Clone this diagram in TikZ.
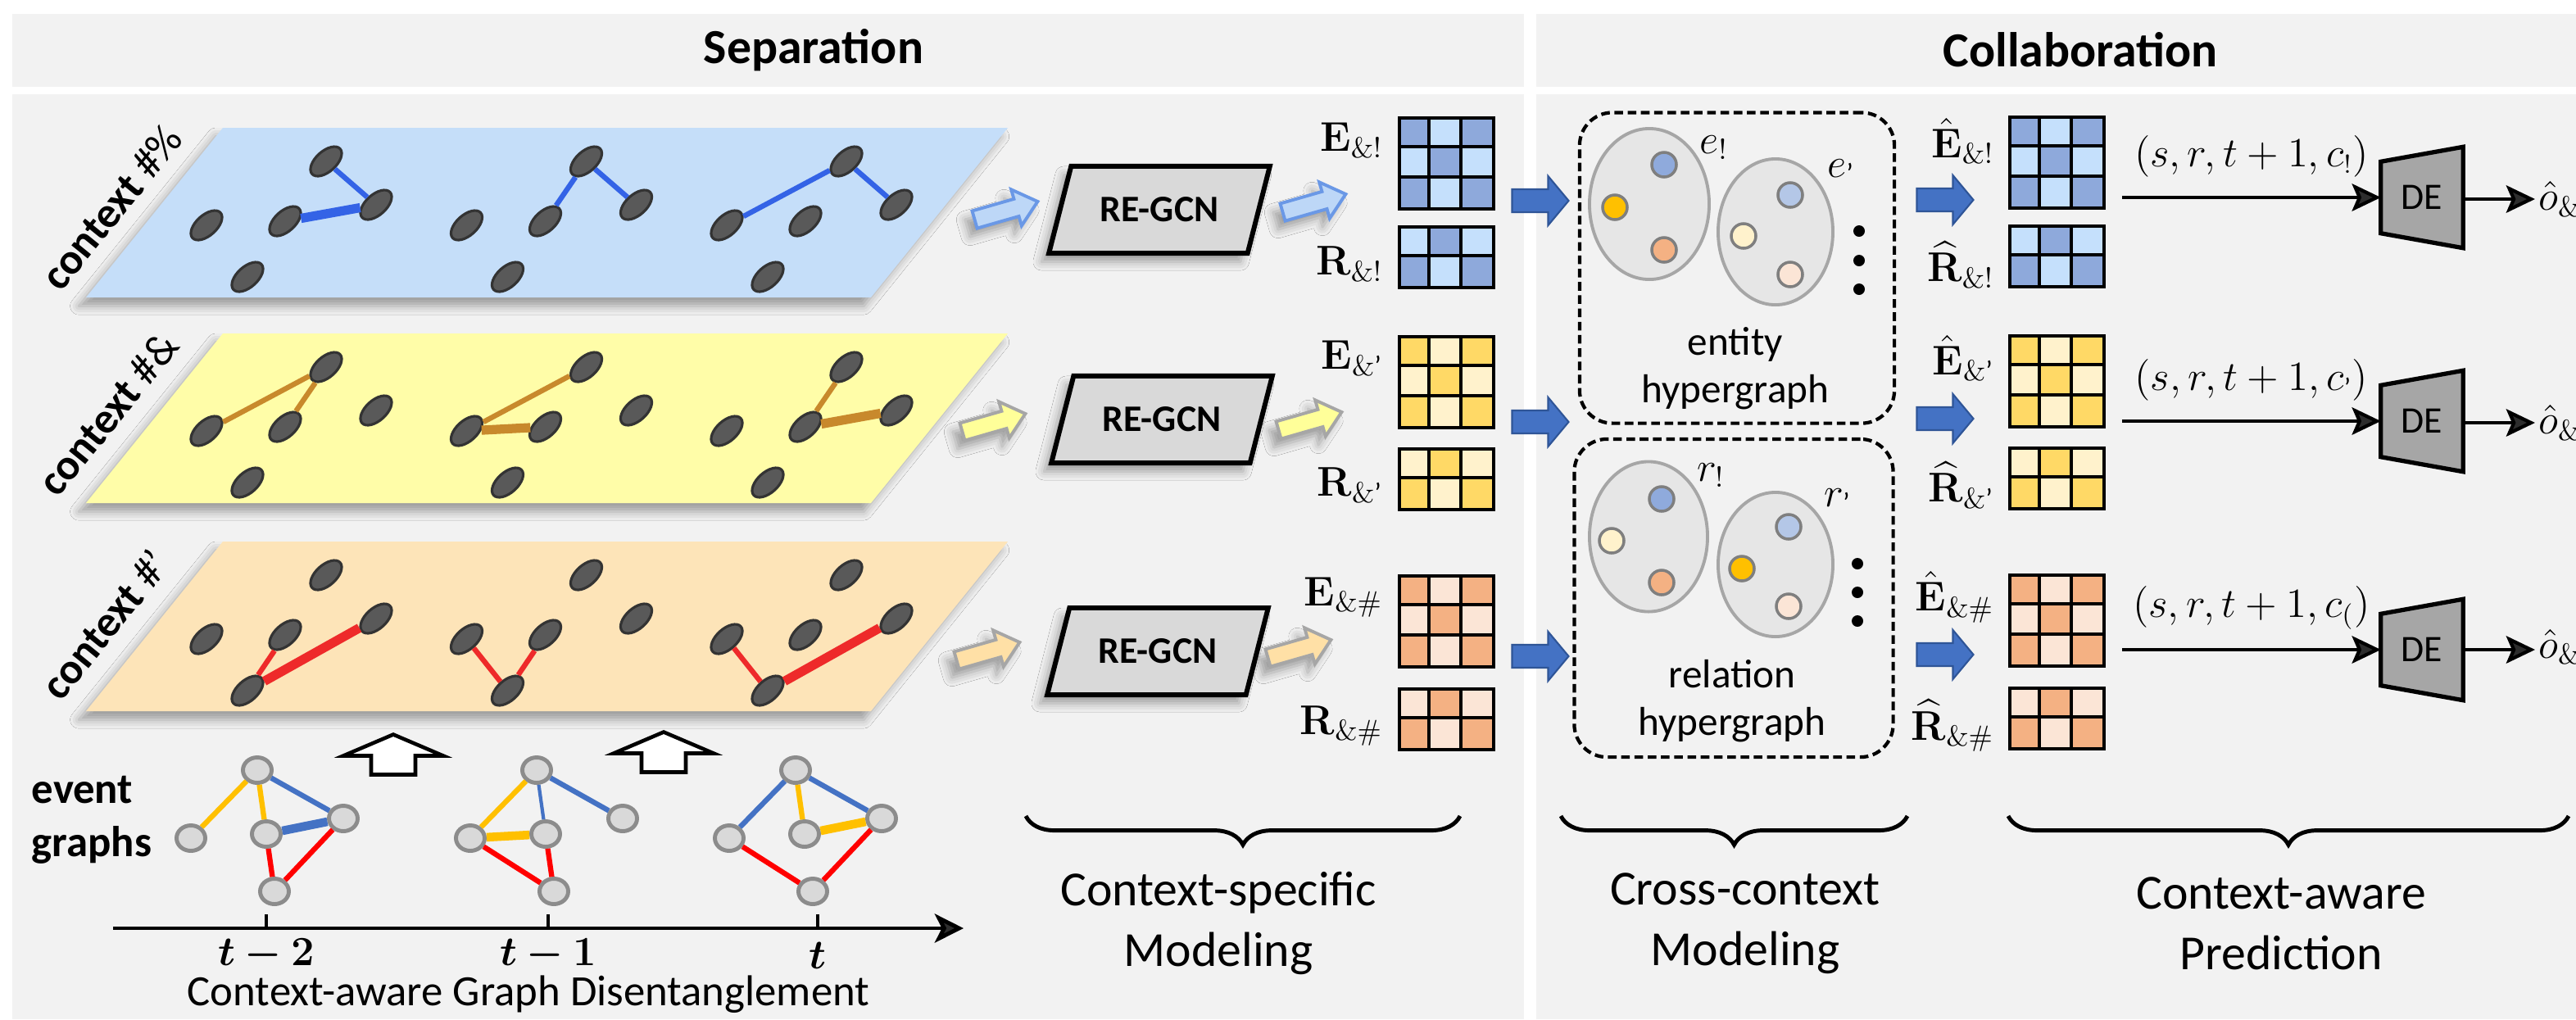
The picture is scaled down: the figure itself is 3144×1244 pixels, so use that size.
\documentclass[tikz,border=0pt]{standalone}
\usepackage[no-math]{fontspec}
\setmainfont{Carlito}
\usepackage{amsmath}
\usepackage{amssymb}
\usepackage{bm}
\usetikzlibrary{shapes.geometric,arrows.meta,positioning,calc,decorations.pathreplacing,shadows.blur}

\definecolor{panelgray}{HTML}{F2F2F2}
\definecolor{planeblue}{HTML}{C5DEF9}
\definecolor{planeyellow}{HTML}{FFFDA8}
\definecolor{planeorange}{HTML}{FDE4B8}
\definecolor{pnodefill}{HTML}{595959}
\definecolor{pnodeline}{HTML}{333333}
\definecolor{pblue}{HTML}{3463E6}
\definecolor{pbrown}{HTML}{C8892C}
\definecolor{pred}{HTML}{EE2A2A}
\definecolor{enodefill}{HTML}{D9D9D9}
\definecolor{enodeline}{HTML}{8C8C8C}
\definecolor{evblue}{HTML}{4472C4}
\definecolor{evyellow}{HTML}{FFC000}
\definecolor{evred}{HTML}{FF0000}
\definecolor{gcnfill}{HTML}{D9D9D9}
\definecolor{mbluedark}{HTML}{8EA9DB}
\definecolor{mbluelight}{HTML}{C5E0FC}
\definecolor{myellowdark}{HTML}{FFD966}
\definecolor{myellowlight}{HTML}{FFF2CC}
\definecolor{morangedark}{HTML}{F4B183}
\definecolor{morangelight}{HTML}{FBE5D6}
\definecolor{arrowblue}{HTML}{4472C4}
\definecolor{arrowblueline}{HTML}{2F5597}
\definecolor{hedgefill}{HTML}{E6E6E6}
\definecolor{hedgeline}{HTML}{A6A6A6}
\definecolor{defill}{HTML}{A6A6A6}
\definecolor{sablue}{HTML}{BDD7F7}
\definecolor{sablueline}{HTML}{6A98E6}
\definecolor{sayellow}{HTML}{FFFF99}
\definecolor{saorange}{HTML}{FFE0A6}
\definecolor{saline}{HTML}{A6A6A6}
\definecolor{dotblue}{HTML}{8FAADC}
\definecolor{dotlightblue}{HTML}{B4C7E7}
\definecolor{dotyellow}{HTML}{FFC000}
\definecolor{dotlightyellow}{HTML}{FFF2CC}
\definecolor{dotorange}{HTML}{F4B183}
\definecolor{dotpeach}{HTML}{FBE5D6}
\definecolor{dotline}{HTML}{7F7F7F}

% embedding grid with 3 columns: name, left, top, rows, dark, light, parity
\newcommand{\embgrid}[7]{%
  \foreach \i in {1,...,#4}
    \foreach \j in {1,2,3} {
      \pgfmathtruncatemacro{\cellodd}{mod(\i+\j+#7,2)}
      \ifnum\cellodd=0 \def\cellcol{#5}\else\def\cellcol{#6}\fi
      \fill[\cellcol] (#2+38.3*\j-38.3,#3+37*\i-37) rectangle ++(38.3,37);
    }
  \foreach \j in {1,2}
    \draw[line width=1.1pt] (#2+38.3*\j,#3) -- ++(0,37*#4);
  \foreach \i in {2,...,#4}
    \draw[line width=1.1pt] (#2,#3+37*\i-37) -- ++(115,0);
  \node[draw, line width=1.1pt, inner sep=0pt, minimum width=1.15cm, minimum height=0.37cm*#4, anchor=north west] (#1) at (#2,#3) {};
}

% block arrow pointing right: centre x, centre y, length, body half, head half, head length, style
\newcommand{\blockarrow}[7]{%
  \path[#7] (#1-#3/2,#2-#4) -- (#1+#3/2-#6,#2-#4) -- (#1+#3/2-#6,#2-#5) -- (#1+#3/2,#2)
    -- (#1+#3/2-#6,#2+#5) -- (#1+#3/2-#6,#2+#4) -- (#1-#3/2,#2+#4) -- cycle;
}

\begin{document}
\begin{tikzpicture}[x=0.01cm, y=-0.01cm,
    softshadow/.style={blur shadow={shadow xshift=-2.5pt, shadow yshift=-3pt, shadow blur radius=3pt, shadow opacity=35}},
    header/.style={font=\fontsize{17}{20}\selectfont\bfseries},
    pnode/.style={ellipse, draw=pnodeline, fill=pnodefill, line width=0.9pt, minimum width=0.46cm, minimum height=0.25cm, inner sep=0pt, rotate=42},
    pedge/.style={line width=1.8pt},
    pthick/.style={line width=3.2pt},
    ctxlabel/.style={rotate=51, font=\fontsize{15}{18}\selectfont},
    enode/.style={ellipse, draw=enodeline, fill=enodefill, line width=1.4pt, minimum width=0.35cm, minimum height=0.31cm, inner sep=0pt},
    eedge/.style={line width=1.8pt},
    ethick/.style={line width=3pt},
    hollow/.style={draw=black, fill=white, line width=1.3pt},
    gcn/.style={trapezium, trapezium left angle=59, trapezium right angle=121, trapezium stretches=true, draw=black, line width=1.7pt, fill=gcnfill, minimum width=2.7cm, minimum height=1.06cm, inner sep=0pt, font=\fontsize{13}{15}\selectfont\bfseries, softshadow},
    mlabel/.style={anchor=east, inner sep=1pt, font=\fontsize{14}{16}\selectfont},
    bigarrow/.style={fill=arrowblue, draw=arrowblueline, line width=0.6pt},
    hyperbox/.style={draw, line width=1.2pt, dash pattern=on 3pt off 1.6pt, rounded corners=0.4cm, inner sep=0pt},
    hedge/.style={ellipse, draw=hedgeline, fill=hedgefill, line width=1.1pt, inner sep=0pt},
    hdot/.style={circle, draw=dotline, line width=1pt, inner sep=0pt, minimum size=0.3cm},
    vdot/.style={circle, fill=black, inner sep=0pt, minimum size=0.14cm},
    htext/.style={align=center, font=\fontsize{14}{16.5}\selectfont},
    brace/.style={decorate, decoration={brace, mirror, amplitude=10pt}, line width=1.4pt},
    bracetext/.style={align=center, font=\fontsize{17}{21}\selectfont},
    predarrow/.style={-{Stealth[length=10pt, width=9.5pt, inset=2pt]}, line width=1.2pt},
    detrap/.style={draw=black, fill=defill, line width=1.5pt}]

\useasboundingbox (0,0) rectangle (3144,1244);

% header bars and panels
\fill[panelgray] (15,17) rectangle (1860,106);
\fill[panelgray] (1875,17) rectangle (3144,106);
\fill[panelgray] (15,115) rectangle (1860,1244);
\fill[panelgray] (1875,115) rectangle (3144,1244);
\node[header] (hsep) at (993,61) {Separation};
\node[header] (hcol) at (2539,61) {Collaboration};

% context planes
\foreach \pc/\yt in {planeblue/156, planeyellow/407, planeorange/661}
  \fill[\pc, softshadow] (105,\yt+207) -- (1063,\yt+207) -- (1230,\yt) -- (272,\yt) -- cycle;

% nodes on the planes (same layout for every timestamp)
\foreach \p/\yt in {b/156, y/407, o/661}
  \foreach \k in {0,1,2} {
    \node[pnode] (\p\k t) at (398+317.5*\k,\yt+41) {};
    \node[pnode] (\p\k r) at (459+317.5*\k,\yt+94) {};
    \node[pnode] (\p\k m) at (348+317.5*\k,\yt+114) {};
    \node[pnode] (\p\k l) at (252+317.5*\k,\yt+119) {};
    \node[pnode] (\p\k b) at (302+317.5*\k,\yt+182) {};
  }

% context #1 edges
\draw[pedge, pblue] (b0t) -- (b0r);
\draw[pthick, pblue] (b0r) -- (b0m);
\draw[pedge, pblue] (b1t) -- (b1m);
\draw[pedge, pblue] (b1t) -- (b1r);
\draw[pedge, pblue] (b2l) -- (b2t);
\draw[pedge, pblue] (b2t) -- (b2r);
% context #2 edges
\draw[pedge, pbrown] (y0l) -- (y0t);
\draw[pedge, pbrown] (y0m) -- (y0t);
\draw[pedge, pbrown] (y1l) -- (y1t);
\draw[pthick, pbrown] (y1l) -- (y1m);
\draw[pedge, pbrown] (y2m) -- (y2t);
\draw[pthick, pbrown] (y2m) -- (y2r);
% context #3 edges
\draw[pedge, pred] (o0b) -- (o0m);
\draw[pthick, pred] (o0b) -- (o0r);
\draw[pedge, pred] (o1b) -- (o1l);
\draw[pedge, pred] (o1b) -- (o1m);
\draw[pedge, pred] (o2b) -- (o2l);
\draw[pthick, pred] (o2b) -- (o2r);

% plane labels
\node[ctxlabel] (ctxb) at (136,253) {\textbf{context} \#\%};
\node[ctxlabel] (ctxy) at (132,505) {\textbf{context} \#\&};
\node[ctxlabel] (ctxo) at (128,762) {\textbf{context} \#'};

% event graphs
\foreach \k/\xo in {1/0, 2/341, 3/657} {
  \node[enode] (e\k t) at (314+\xo,940) {};
  \node[enode] (e\k m) at (325+\xo,1018) {};
  \node[enode] (e\k r) at (419+\xo,999) {};
  \node[enode] (e\k l) at (233+\xo,1023) {};
  \node[enode] (e\k b) at (335+\xo,1088) {};
}
\draw[eedge, evyellow] (e1t) -- (e1l);
\draw[eedge, evyellow] (e1t) -- (e1m);
\draw[eedge, evblue] (e1t) -- (e1r);
\draw[ethick, evblue] (e1m) -- (e1r);
\draw[eedge, evred] (e1m) -- (e1b);
\draw[eedge, evred] (e1r) -- (e1b);
\draw[eedge, evyellow] (e2t) -- (e2l);
\draw[line width=1.2pt, evblue] (e2t) -- (e2m);
\draw[eedge, evblue] (e2t) -- (e2r);
\draw[ethick, evyellow] (e2l) -- (e2m);
\draw[eedge, evred] (e2l) -- (e2b);
\draw[eedge, evred] (e2m) -- (e2b);
\draw[eedge, evblue] (e3t) -- (e3l);
\draw[eedge, evyellow] (e3t) -- (e3m);
\draw[eedge, evblue] (e3t) -- (e3r);
\draw[ethick, evyellow] (e3m) -- (e3r);
\draw[eedge, evred] (e3l) -- (e3b);
\draw[eedge, evred] (e3r) -- (e3b);

% hollow arrows pointing up to the planes
\foreach \ax/\ay in {480/921, 810/918} {
  \begin{scope}[shift={(\ax,\ay)}, rotate=90]
    \blockarrow{0}{0}{49}{27}{61}{26}{hollow}
  \end{scope}
}
\node[align=left, anchor=west, inner sep=0pt, font=\fontsize{15}{18.5}\selectfont\bfseries] (evlabel) at (38,1001) {event\\graphs};

% time axis
\coordinate (axs) at (138,1133);
\coordinate (axe) at (1176,1133);
\draw[line width=1.4pt, -{Stealth[length=10pt, width=10pt, inset=2.5pt]}] (axs) -- (axe);
\foreach \tx in {325,669,998}
  \draw[line width=1.2pt] (\tx,1133) -- (\tx,1116);
\node[font=\fontsize{14}{16}\selectfont] (tl1) at (325,1166) {$\bm{t-2}$};
\node[font=\fontsize{14}{16}\selectfont] (tl2) at (669,1166) {$\bm{t-1}$};
\node[font=\fontsize{14}{16}\selectfont] (tl3) at (998,1166) {$\bm{t}$};
\node[font=\fontsize{15}{18}\selectfont] (cgd) at (645,1214) {Context-aware Graph Disentanglement};

% context-specific modeling
\foreach \ax/\ay/\fc/\dc in {1228/257/sablue/sablueline, 1213/516/sayellow/saline, 1206/795/saorange/saline,
                              1604/248/sablue/sablueline, 1599/514/sayellow/saline, 1586/792/saorange/saline} {
  \begin{scope}[shift={(\ax,\ay)}, rotate=16]
    \blockarrow{0}{0}{80}{11}{23}{27}{fill=\fc, draw=\dc, line width=1.1pt, softshadow}
  \end{scope}
}
\node[gcn] (gcn1) at (1415,256) {RE-GCN};
\node[gcn] (gcn2) at (1418,512) {RE-GCN};
\node[gcn] (gcn3) at (1413,795) {RE-GCN};

\embgrid{eb}{1706}{142}{3}{mbluedark}{mbluelight}{0}
\embgrid{rb}{1706}{275}{2}{mbluedark}{mbluelight}{1}
\embgrid{ey}{1706}{409}{3}{myellowdark}{myellowlight}{0}
\embgrid{ry}{1706}{546}{2}{myellowdark}{myellowlight}{1}
\embgrid{eo}{1706}{701}{3}{morangedark}{morangelight}{0}
\embgrid{ro}{1706}{839}{2}{morangedark}{morangelight}{1}
\node[mlabel] (ebl) at (1692,171) {$\mathbf{E}_{\&!}$};
\node[mlabel] (rbl) at (1692,322) {$\mathbf{R}_{\&!}$};
\node[mlabel] (eyl) at (1692,437) {$\mathbf{E}_{\&\text{'}}$};
\node[mlabel] (ryl) at (1692,592) {$\mathbf{R}_{\&\text{'}}$};
\node[mlabel] (eol) at (1692,729) {$\mathbf{E}_{\&\#}$};
\node[mlabel] (rol) at (1692,886) {$\mathbf{R}_{\&\#}$};

\draw[brace] (1252,996) -- (1782,996);
\node[bracetext] (csm) at (1487,1127) {Context-specific\\Modeling};

% cross-context modeling
\foreach \ay in {245,515,801} {
  \blockarrow{1880}{\ay}{69}{14}{30}{25}{bigarrow}
}

\node[hyperbox, minimum width=3.84cm, minimum height=3.79cm] (hbent) at (2120,327) {};
\node[hedge, minimum width=1.46cm, minimum height=1.84cm] (he1) at (2013,249) {};
\node[hedge, minimum width=1.40cm, minimum height=1.78cm] (he2) at (2167,283) {};
\node[hdot, fill=dotblue] (hd1) at (2031,201) {};
\node[hdot, fill=dotyellow] (hd2) at (1971,253) {};
\node[hdot, fill=dotorange] (hd3) at (2031,305) {};
\node[hdot, fill=dotlightblue] (hd4) at (2185,238) {};
\node[hdot, fill=dotlightyellow] (hd5) at (2128,288) {};
\node[hdot, fill=dotpeach] (hd6) at (2185,335) {};
\node[font=\fontsize{14}{16}\selectfont] (hel1) at (2092,180) {$e_{!}$};
\node[font=\fontsize{14}{16}\selectfont] (hel2) at (2247,209) {$e_{\text{'}}$};
\foreach \dy in {282,318,353}
  \node[vdot] at (2269,\dy) {};
\node[htext] (hent) at (2118,450) {entity\\hypergraph};

\node[hyperbox, minimum width=3.89cm, minimum height=3.88cm] (hbrel) at (2116,730) {};
\node[hedge, minimum width=1.44cm, minimum height=1.83cm] (hr1) at (2012,655) {};
\node[hedge, minimum width=1.40cm, minimum height=1.76cm] (hr2) at (2167,689) {};
\node[hdot, fill=dotblue] (rd1) at (2028,609) {};
\node[hdot, fill=dotlightyellow] (rd2) at (1967,660) {};
\node[hdot, fill=dotorange] (rd3) at (2028,711) {};
\node[hdot, fill=dotlightblue] (rd4) at (2183,643) {};
\node[hdot, fill=dotyellow] (rd5) at (2126,694) {};
\node[hdot, fill=dotpeach] (rd6) at (2183,740) {};
\node[font=\fontsize{14}{16}\selectfont] (hrl1) at (2088,580) {$r_{!}$};
\node[font=\fontsize{14}{16}\selectfont] (hrl2) at (2243,611) {$r_{\text{'}}$};
\foreach \dy in {688,723,758}
  \node[vdot] at (2267,\dy) {};
\node[htext] (hrel) at (2114,856) {relation\\hypergraph};

\draw[brace] (1905,996) -- (2328,996);
\node[bracetext] (ccm) at (2130,1127) {Cross-context\\Modeling};

% context-aware prediction
\foreach \ay in {244,511,799} {
  \blockarrow{2374}{\ay}{69}{14}{30}{25}{bigarrow}
}

\embgrid{ehb}{2451}{141}{3}{mbluedark}{mbluelight}{0}
\embgrid{rhb}{2451}{274}{2}{mbluedark}{mbluelight}{1}
\embgrid{ehy}{2451}{408}{3}{myellowdark}{myellowlight}{0}
\embgrid{rhy}{2451}{545}{2}{myellowdark}{myellowlight}{1}
\embgrid{eho}{2451}{700}{3}{morangedark}{morangelight}{0}
\embgrid{rho}{2451}{838}{2}{morangedark}{morangelight}{1}
\node[mlabel] (ehbl) at (2438,172) {$\hat{\mathbf{E}}_{\&!}$};
\node[mlabel] (rhbl) at (2438,323) {$\widehat{\mathbf{R}}_{\&!}$};
\node[mlabel] (ehyl) at (2438,437) {$\hat{\mathbf{E}}_{\&\text{'}}$};
\node[mlabel] (rhyl) at (2438,592) {$\widehat{\mathbf{R}}_{\&\text{'}}$};
\node[mlabel] (ehol) at (2438,729) {$\hat{\mathbf{E}}_{\&\#}$};
\node[mlabel] (rhol) at (2438,886) {$\widehat{\mathbf{R}}_{\&\#}$};

% decoders
\foreach \k/\dy in {1/241, 2/514, 3/793} {
  \node[inner sep=0pt, minimum width=0.99cm, minimum height=0.86cm] (de\k) at (2956,\dy) {};
  \draw[detrap] (de\k.south west) -- (de\k.north west) -- ($(de\k.north east)+(0,-18)$) -- ($(de\k.south east)+(0,18)$) -- cycle;
  \node[font=\fontsize{13}{15}\selectfont] (det\k) at (de\k) {DE};
}
\node[anchor=west, inner sep=1pt, font=\fontsize{14}{16}\selectfont] (oh1) at (3094,243) {$\hat{o}_{\&!}$};
\node[anchor=west, inner sep=1pt, font=\fontsize{14}{16}\selectfont] (oh2) at (3094,516) {$\hat{o}_{\&\text{'}}$};
\node[anchor=west, inner sep=1pt, font=\fontsize{14}{16}\selectfont] (oh3) at (3094,793) {$\hat{o}_{\&\#}$};

\draw[predarrow] ($(ehb.east |- de1.west)+(20,0)$) -- node[above=3pt, font=\fontsize{13.5}{16}\selectfont] (q1) {$(s,r,t+1,c_{!})$} (de1.west);
\draw[predarrow] ($(ehy.east |- de2.west)+(20,0)$) -- node[above=3pt, font=\fontsize{13.5}{16}\selectfont] (q2) {$(s,r,t+1,c_{\text{'}})$} (de2.west);
\draw[predarrow] ($(eho.east |- de3.west)+(20,0)$) -- node[above=3pt, font=\fontsize{13.5}{16}\selectfont] (q3) {$(s,r,t+1,c_{(})$} (de3.west);
\draw[predarrow] (de1.east |- oh1.west) -- (oh1.west);
\draw[predarrow] (de2.east |- oh2.west) -- (oh2.west);
\draw[predarrow] (de3.east |- oh3.west) -- (oh3.west);

\draw[brace] (2451,996) -- (3135,996);
\node[bracetext] (cap) at (2784,1127) {Context-aware\\Prediction};

\end{tikzpicture}
\end{document}
